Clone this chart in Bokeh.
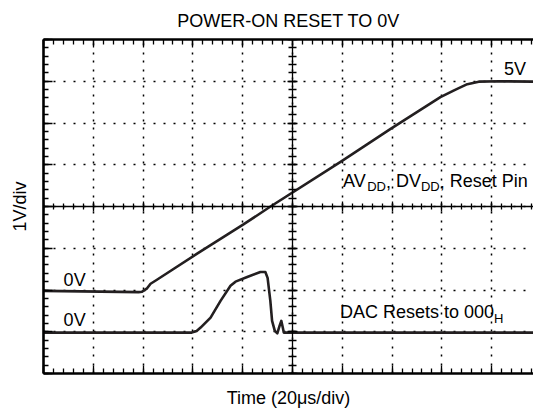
import numpy as np
from bokeh.plotting import figure
from bokeh.models import Label, FixedTicker, LinearAxis
from bokeh.embed import file_html
from bokeh.resources import INLINE

# ---------------- data ----------------
supply_time_us = [0, 22.9, 38.2, 39.6, 41.6, 43.0, 45.4, 61.7, 80.3, 90.4, 119.3,
                  139.4, 159.4, 165.5, 170.2, 174.8, 183.5, 196.8]
supply_volts = [-0.02, -0.04, -0.05, -0.04, 0.04, 0.15, 0.24, 0.87, 1.57, 1.97, 3.07,
                3.86, 4.62, 4.80, 4.93, 4.99, 5.00, 4.99]

dac_time_us = [0, 30.0, 59.5, 61.5, 63.1, 67.1, 71.1, 75.1, 77.1, 81.8, 87.1, 89.1, 90.0,
               91.1, 91.8, 92.9, 93.9, 94.8, 95.5, 96.1, 96.5, 120.0, 196.8]
dac_volts = [-0.02, -0.02, -0.02, 0.02, 0.10, 0.34, 0.74, 1.10, 1.20, 1.31, 1.43, 1.43, 1.29,
             0.74, 0.26, 0.02, -0.04, 0.14, 0.26, 0.10, -0.02, -0.02, -0.02]

supply_zero_div = -2   # screen division where the supply trace's 0V sits
dac_zero_div = -3      # screen division where the DAC trace's 0V sits

x_major = list(range(0, 201, 20))          # 20 us / div
x_minor = list(range(0, 201, 4))
y_major = list(range(-4, 5))               # 1 V / div
y_minor = [round(k * 0.2, 1) for k in range(-20, 21)]

title_text = "POWER-ON RESET TO 0V"
x_label = "Time (20\u03bcs/div)"
y_label = "1V/div"

# ---------------- layout ----------------
W, H = 533, 411
ML, MT, MB = 43, 37, 38
PX_X = 49.8 / 20.0      # px per us
PX_Y = 42.0             # px per division
x_end = (W - ML) / PX_X

FONT = "Liberation Sans"
FS = 18
FS_SUB = 13
INK = "#231f20"

p = figure(width=W, height=H, x_range=(0, x_end), y_range=(-4, 4),
           output_backend="svg", toolbar_location=None,
           min_border_left=ML, min_border_right=0, min_border_top=MT,
           min_border_bottom=MB, background_fill_color="white",
           border_fill_color="white")
p.outline_line_color = None

xt = FixedTicker(ticks=x_major, minor_ticks=x_minor)
yt = FixedTicker(ticks=y_major, minor_ticks=y_minor)


def style_axis(ax, ticker, ticks, tmaj_in, tmin_in, tmaj_out=0, tmin_out=0, lw=2.6):
    ax.ticker = ticker
    ax.axis_line_width = lw
    ax.axis_line_color = "black"
    ax.major_tick_in = tmaj_in
    ax.major_tick_out = tmaj_out
    ax.minor_tick_in = tmin_in
    ax.minor_tick_out = tmin_out
    ax.major_tick_line_width = 1.3
    ax.minor_tick_line_width = 1.3
    ax.major_tick_line_color = "black"
    ax.minor_tick_line_color = "black"
    ax.major_label_overrides = {t: "" for t in ticks}
    ax.major_label_text_font_size = "0px"
    ax.major_label_standoff = 0
    ax.axis_label_text_font = FONT
    ax.axis_label_text_font_size = f"{FS}px"
    ax.axis_label_text_font_style = "normal"
    ax.axis_label_text_color = "black"


xb = p.xaxis[0]
style_axis(xb, xt, x_major, 8, 5)
xb.axis_label = x_label
xb.axis_label_standoff = 14

yl = p.yaxis[0]
style_axis(yl, yt, y_major, 9, 5)
yl.axis_label = y_label
yl.axis_label_standoff = 14

xa = LinearAxis()
style_axis(xa, xt, x_major, 8, 5)
p.add_layout(xa, "above")

# solid centre cross of the graticule, with its tick marks
cross_h = LinearAxis(fixed_location=0)
style_axis(cross_h, xt, x_major, 5, 3, 5, 3, lw=1.3)
p.add_layout(cross_h, "below")
cross_v = LinearAxis(fixed_location=100)
style_axis(cross_v, yt, y_major, 5, 4, 5, 4, lw=1.3)
p.add_layout(cross_v, "left")

p.title.text = title_text
p.title.align = "center"
p.title.text_font = FONT
p.title.text_font_size = f"{FS}px"
p.title.text_font_style = "normal"
p.title.text_color = "black"
p.title.standoff = 17

# dotted graticule
for g in (p.xgrid[0], p.ygrid[0]):
    g.grid_line_color = "black"
    g.grid_line_width = 1.5
p.xgrid[0].ticker = FixedTicker(ticks=x_major)
p.ygrid[0].ticker = FixedTicker(ticks=y_major)
p.xgrid[0].grid_line_dash = "2 6 2 7 2 6 2 7 2 6"
p.ygrid[0].grid_line_dash = "2 8"

# traces
p.line(supply_time_us, np.array(supply_volts) + supply_zero_div, line_color=INK,
       line_width=2.6, line_join="round", line_cap="round")
p.line(dac_time_us, np.array(dac_volts) + dac_zero_div, line_color=INK,
       line_width=2.6, line_join="round", line_cap="round")

# ---------------- annotations ----------------
ARIAL = {"A": 667, "V": 667, "D": 722, ",": 278, " ": 278, "R": 722, "e": 556,
         "s": 500, "t": 278, "P": 667, "i": 222, "n": 556, "C": 722, "o": 556,
         "0": 556, "H": 722, "5": 556}
BASE_FIX = 0.38   # baseline correction, in em


def tw(s, size):
    return sum(ARIAL.get(c, 556) for c in s) * size / 1000.0


def add_label(x, y, text, size=FS, align="left"):
    y = y + BASE_FIX * size / PX_Y
    p.add_layout(Label(x=x, y=y, text=text, text_font=FONT, text_font_size=f"{size}px",
                       text_color="black", text_align=align, text_baseline="alphabetic"))


def chain(parts, center_us, base_div, drop_px):
    total = sum(tw(t, FS_SUB if sub else FS) for t, sub in parts)
    x = center_us * PX_X - total / 2.0
    for t, sub in parts:
        size = FS_SUB if sub else FS
        stripped = t.lstrip(" ")
        x += tw(t[:len(t) - len(stripped)], size)
        y = base_div - (drop_px / PX_Y if sub else 0)
        add_label(x / PX_X, y, stripped, size)
        x += tw(stripped, size)


add_label(189.4, 3.12, "5V", align="center")
add_label(12.5, -1.93, "0V", align="center")
add_label(12.5, -2.88, "0V", align="center")

chain([("AV", 0), ("DD", 1), (",", 0), (" DV", 0), ("DD", 1), (",", 0), (" Reset Pin", 0)],
      157.4, 0.44, 3.5)
chain([("DAC Resets to 000", 0), ("H", 1)], 151.9, -2.70, 4.4)

open("out.html", "w").write(file_html(p, INLINE))
